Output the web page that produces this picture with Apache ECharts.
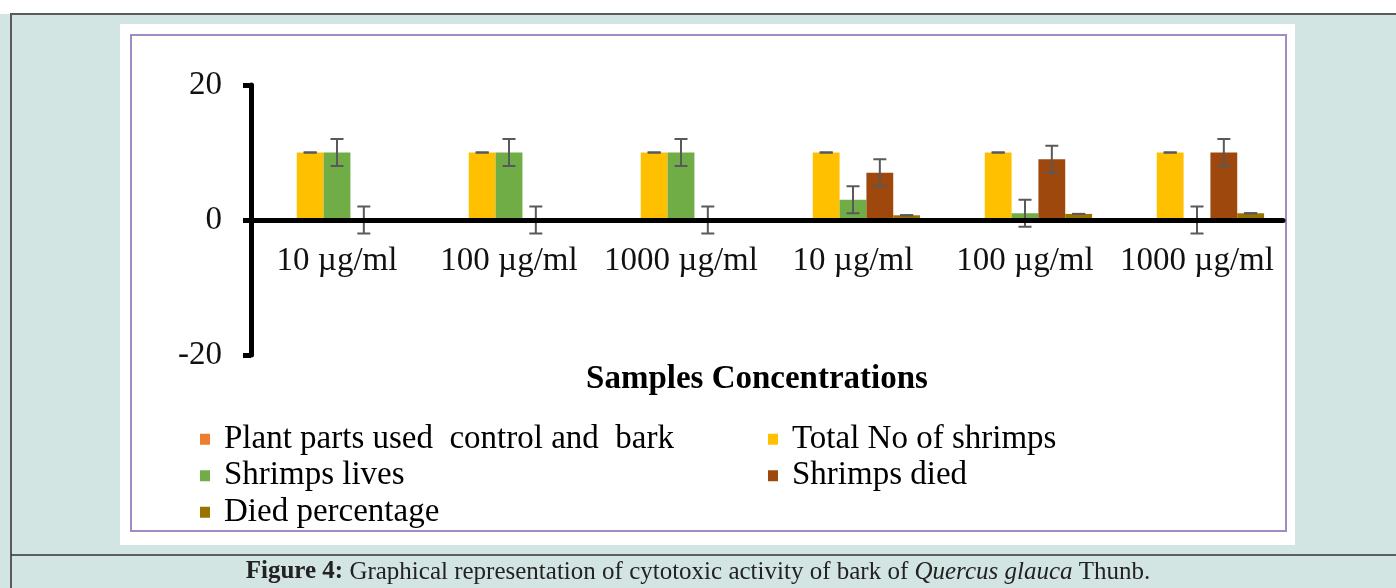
<!DOCTYPE html>
<html>
<head>
<meta charset="utf-8">
<script src="https://cdn.jsdelivr.net/npm/echarts@6/dist/echarts.min.js"></script>
<style>
  html, body { margin: 0; padding: 0; background: #fff; }
  #chart { width: 1396px; height: 588px; }
</style>
</head>
<body>
<div id="chart"></div>
<script>
const categories = ['10 µg/ml', '100 µg/ml', '1000 µg/ml', '10 µg/ml', '100 µg/ml', '1000 µg/ml'];
const seriesNames = ['Plant parts used  control and  bark', 'Total No of shrimps', 'Shrimps lives', 'Shrimps died', 'Died percentage'];
const plantParts = [0, 0, 0, 0, 0, 0];
const totalShrimps = [10, 10, 10, 10, 10, 10];
const shrimpsLives = [10, 10, 10, 3, 1, 0];
const shrimpsDied = [0, 0, 0, 7, 9, 10];
const diedPercentage = [0, 0, 0, 0.7, 0.9, 1];
const totalErr = [0, 0, 0, 0, 0, 0];
const livesErr = [2, 2, 2, 2, 2, 2];
const diedErr = [2, 2, 2, 2, 2, 2];
const pctErr = [0, 0, 0, 0, 0, 0];
const yTicks = [-20, 0, 20];

const colors = ['#ED7D31', '#FFC000', '#70AD47', '#9E480E', '#997300'];
const CAT_GAP = 0.22;
const FONT = '"Liberation Serif", "Times New Roman", serif';

// grid box; the category axis sits on the zero line, halfway down
const GRID_TOP = 85;
const GRID_BOTTOM = 233;
const PLOT_H = 588 - GRID_TOP - GRID_BOTTOM;

const chart = echarts.init(document.getElementById('chart'));

function errData(values, errs) {
  return values.map((v, i) => [i, v - errs[i], v + errs[i]]);
}

function errSeries(barIndex, values, errs) {
  return {
    type: 'custom',
    z: 3,
    silent: true,
    data: errData(values, errs),
    renderItem: (params, api) => {
      const ci = api.value(0);
      const catW = api.size([1, 0])[0];
      const barW = catW * (1 - CAT_GAP) / seriesNames.length;
      const x = api.coord([ci, 0])[0] + (barIndex - 2) * barW;
      const yLo = api.coord([ci, api.value(1)])[1];
      const yHi = api.coord([ci, api.value(2)])[1];
      const cap = 6.5;
      const style = { stroke: '#595959', lineWidth: 2 };
      return {
        type: 'group',
        children: [
          { type: 'line', shape: { x1: x, y1: yLo, x2: x, y2: yHi }, style },
          { type: 'line', shape: { x1: x - cap, y1: yHi, x2: x + cap, y2: yHi }, style },
          { type: 'line', shape: { x1: x - cap, y1: yLo, x2: x + cap, y2: yLo }, style }
        ]
      };
    }
  };
}

const barValues = [plantParts, totalShrimps, shrimpsLives, shrimpsDied, diedPercentage];

const option = {
  animation: false,
  color: colors,
  textStyle: { fontFamily: FONT },
  graphic: [
    { type: 'rect', z: -10, shape: { x: 0, y: 14, width: 1396, height: 574 }, style: { fill: '#D3E5E3' } },
    { type: 'line', z: -9, shape: { x1: 10, y1: 14, x2: 1396, y2: 14 }, style: { stroke: '#5a5a5a', lineWidth: 2 } },
    { type: 'line', z: -9, shape: { x1: 11, y1: 14, x2: 11, y2: 588 }, style: { stroke: '#5a5a5a', lineWidth: 2 } },
    { type: 'line', z: -9, shape: { x1: 11, y1: 555, x2: 1396, y2: 555 }, style: { stroke: '#333', lineWidth: 1.5 } },
    { type: 'rect', z: -8, shape: { x: 120, y: 24, width: 1175, height: 521 }, style: { fill: '#ffffff' } },
    { type: 'rect', z: -7, shape: { x: 131, y: 35, width: 1155, height: 496 }, style: { fill: 'none', stroke: '#A08CC4', lineWidth: 2 } },
    {
      type: 'text', z: -6, x: 698, y: 572,
      style: {
        text: '{b|Figure 4:} Graphical representation of cytotoxic activity of bark of {i|Quercus glauca} Thunb.',
        align: 'center', verticalAlign: 'middle',
        font: '25px "Liberation Serif", serif', fill: '#222',
        rich: {
          b: { fontWeight: 'bold', fontSize: 25, fontFamily: FONT, fill: '#222' },
          i: { fontStyle: 'italic', fontSize: 25, fontFamily: FONT, fill: '#222' }
        }
      }
    }
  ],
  legend: {
    data: seriesNames,
    left: 200,
    top: 421,
    width: 1150,
    padding: 0,
    itemGap: 0,
    itemWidth: 10,
    itemHeight: 11,
    icon: 'rect',
    textStyle: {
      fontFamily: FONT,
      fontSize: 33,
      color: '#000',
      width: 544,
      lineHeight: 36.5,
      padding: [0, 0, 0, 9]
    }
  },
  grid: { left: 251, right: 113, top: GRID_TOP, bottom: GRID_BOTTOM },
  xAxis: {
    type: 'category',
    data: categories,
    z: 5,
    offset: -PLOT_H / 2,
    name: 'Samples Concentrations',
    nameLocation: 'middle',
    nameGap: 143,
    nameTextStyle: { fontFamily: FONT, fontSize: 33, fontWeight: 'bold', color: '#000', padding: [0, 20, 0, 0] },
    axisLine: { onZero: false, lineStyle: { color: '#000', width: 5 } },
    axisTick: { show: false },
    axisLabel: { fontFamily: FONT, fontSize: 33, color: '#111', margin: 25, interval: 0 }
  },
  yAxis: {
    type: 'value',
    min: yTicks[0],
    max: yTicks[yTicks.length - 1],
    interval: 20,
    z: 5,
    splitLine: { show: false },
    axisLine: { show: true, lineStyle: { color: '#000', width: 5 } },
    axisTick: { show: true, length: 8, lineStyle: { color: '#000', width: 5 } },
    axisLabel: { fontFamily: FONT, fontSize: 33, color: '#111', margin: 29 }
  },
  series: [
    ...barValues.map((vals, i) => ({
      name: seriesNames[i],
      type: 'bar',
      data: vals,
      barGap: '0%',
      barCategoryGap: (CAT_GAP * 100) + '%',
      z: 2
    })),
    errSeries(1, totalShrimps, totalErr),
    errSeries(2, shrimpsLives, livesErr),
    errSeries(3, shrimpsDied, diedErr),
    errSeries(4, diedPercentage, pctErr)
  ]
};

chart.setOption(option);
</script>
</body>
</html>
